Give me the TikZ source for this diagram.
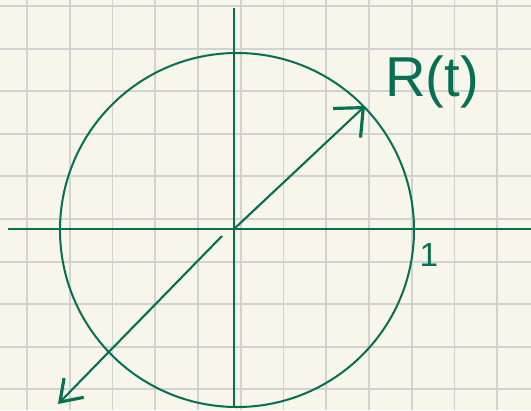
\documentclass[tikz,border=0pt]{standalone}
\usepackage{fontspec}
\setmainfont{Liberation Sans}
\usetikzlibrary{arrows.meta,positioning}
\definecolor{pnGreen}{RGB}{6,112,82}
\definecolor{pnPaper}{RGB}{248,246,234}
\definecolor{pnGrid}{RGB}{210,210,210}

\begin{document}
\begin{tikzpicture}[
  x=0.02cm, y=-0.02cm,
  paper/.style={draw=pnGrid, line width=1.1pt},
  pen/.style={draw=pnGreen, line width=1.15pt},
  arr/.style={pen, line width=1.2pt, -{Straight Barb[length=4.5mm, width=8mm, line width=1.8pt]}},
  arrlow/.style={pen, line width=1.2pt, -{Straight Barb[length=4mm, width=5.5mm, line width=1.8pt]}},
  lbl/.style={text=pnGreen, inner sep=0pt},
]
% paper
\fill[pnPaper] (0,0) rectangle (531,410);
\useasboundingbox (0,0) rectangle (531,410);
\foreach \k in {0,...,11}
  \draw[paper] ({27+42.75*\k},0) -- ({27+42.75*\k},410);
\foreach \k in {0,...,9}
  \draw[paper] (0,{6+42.6*\k}) -- (531,{6+42.6*\k});
% axes
\coordinate (O) at (234,229);
\coordinate (xw) at (8,229);
\coordinate (xe) at (531,229);
\coordinate (yn) at (234,8);
\coordinate (ys) at (234,408);
\draw[pen] (xw) -- (xe);
\draw[pen] (yn) -- (ys);
% unit circle
\coordinate (cc) at (237,230);
\draw[pen] (cc) circle[radius=177];
% vectors
\coordinate (rtip) at (365,106);
\coordinate (z0) at (222,236);
\coordinate (ztip) at (58,404);
\draw[arr] (O) -- (rtip);
\draw[arrlow] (z0) -- (ztip);
% labels
\node[lbl, font=\fontsize{32}{32}\selectfont] (rt) at (432,82) {R(t)};
\node[lbl, font=\fontsize{19}{19}\selectfont] (one) at (429,255) {1};
\end{tikzpicture}
\end{document}
